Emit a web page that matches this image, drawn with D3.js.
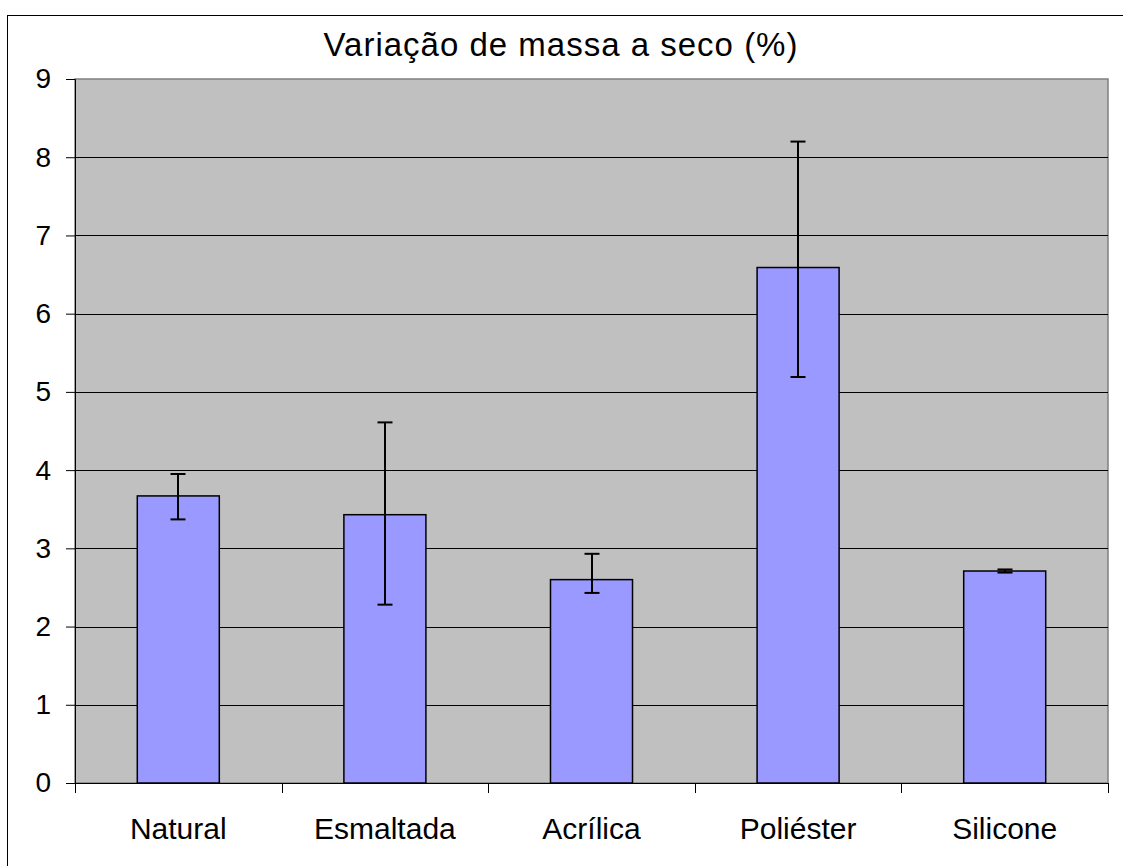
<!DOCTYPE html>
<html>
<head>
<meta charset="utf-8">
<script src="https://cdn.jsdelivr.net/npm/d3@7"></script>
<style>
  html, body { margin: 0; padding: 0; background: #fff; }
  svg { display: block; }
  svg text { font-family: "Liberation Sans", Arial, sans-serif; }
</style>
</head>
<body>
<svg id="chart" width="1123" height="866"></svg>
<script>
// Data
const title = "Variação de massa a seco (%)";
const categories = ["Natural", "Esmaltada", "Acrílica", "Poliéster", "Silicone"];
const values = [3.67, 3.43, 2.60, 6.59, 2.71];
const errLow = [3.37, 2.28, 2.43, 5.19, 2.69];
const errHigh = [3.95, 4.61, 2.93, 8.20, 2.73];
const yTicks = [0, 1, 2, 3, 4, 5, 6, 7, 8, 9];

const FONT = "'Liberation Sans', Arial, sans-serif";
const svg = d3.select("#chart");
const plot = { left: 75, top: 79, right: 1108, bottom: 783 };

// Outer chart frame
svg.append("rect")
  .attr("x", 7.5).attr("y", 15.5)
  .attr("width", 1130).attr("height", 900)
  .attr("fill", "#fff").attr("stroke", "#000").attr("stroke-width", 1);

const x = d3.scaleBand()
  .domain(categories)
  .range([plot.left, plot.right])
  .paddingInner(0).paddingOuter(0);

const y = d3.scaleLinear()
  .domain([0, 9])
  .range([plot.bottom, plot.top]);

// Plot area background
svg.append("rect")
  .attr("x", plot.left).attr("y", plot.top)
  .attr("width", plot.right - plot.left).attr("height", plot.bottom - plot.top)
  .attr("fill", "#c0c0c0").attr("stroke", "#808080").attr("stroke-width", 1.5);

// Horizontal gridlines
svg.append("g").selectAll("line")
  .data(yTicks.filter(d => d > 0 && d < 9))
  .join("line")
  .attr("x1", plot.left).attr("x2", plot.right)
  .attr("y1", d => Math.round(y(d)) + 0.5).attr("y2", d => Math.round(y(d)) + 0.5)
  .attr("stroke", "#000").attr("stroke-width", 1);

// Y axis
const yAxis = svg.append("g")
  .attr("transform", `translate(${plot.left},0)`)
  .call(d3.axisLeft(y).tickValues(yTicks).tickSize(9).tickPadding(15).tickFormat(d3.format("d")));
yAxis.attr("font-family", FONT).attr("font-size", 28);
yAxis.select(".domain").attr("stroke", "#000");
yAxis.selectAll(".tick line").attr("stroke", "#000");
yAxis.selectAll(".tick text").attr("fill", "#000");

// X axis: ticks between categories
const xAxisG = svg.append("g").attr("transform", `translate(0,${plot.bottom})`);
xAxisG.append("line")
  .attr("x1", plot.left).attr("x2", plot.right)
  .attr("y1", 0.5).attr("y2", 0.5)
  .attr("stroke", "#000");
const boundaries = categories.map(c => x(c)).concat([x(categories[categories.length - 1]) + x.bandwidth()]);
xAxisG.selectAll("line.tick")
  .data(boundaries)
  .join("line")
  .attr("class", "tick")
  .attr("x1", d => Math.round(d) + 0.5).attr("x2", d => Math.round(d) + 0.5)
  .attr("y1", 0).attr("y2", 10)
  .attr("stroke", "#000");
xAxisG.selectAll("text")
  .data(categories)
  .join("text")
  .attr("x", d => x(d) + x.bandwidth() / 2)
  .attr("y", 56)
  .attr("text-anchor", "middle")
  .attr("font-family", FONT)
  .attr("font-size", 30)
  .attr("fill", "#000")
  .text(d => d);

// Bars
const barW = x.bandwidth() * 0.397;
svg.append("g").selectAll("rect")
  .data(categories)
  .join("rect")
  .attr("x", (d) => x(d) + (x.bandwidth() - barW) / 2)
  .attr("y", (d, i) => y(values[i]))
  .attr("width", barW)
  .attr("height", (d, i) => y(0) - y(values[i]))
  .attr("fill", "#9999ff")
  .attr("stroke", "#000")
  .attr("stroke-width", 1.5);

// Error bars
const capW = 15;
const eg = svg.append("g").attr("stroke", "#000").attr("stroke-width", 2);
categories.forEach((c, i) => {
  const cx = Math.round(x(c) + x.bandwidth() / 2);
  eg.append("line").attr("x1", cx).attr("x2", cx).attr("y1", y(errLow[i])).attr("y2", y(errHigh[i]));
  eg.append("line").attr("x1", cx - capW / 2).attr("x2", cx + capW / 2).attr("y1", y(errLow[i])).attr("y2", y(errLow[i]));
  eg.append("line").attr("x1", cx - capW / 2).attr("x2", cx + capW / 2).attr("y1", y(errHigh[i])).attr("y2", y(errHigh[i]));
});

// Title, centred on the chart frame
svg.append("text")
  .attr("x", 561)
  .attr("y", 56)
  .attr("text-anchor", "middle")
  .attr("font-family", FONT)
  .attr("font-size", 33)
  .attr("letter-spacing", 1)
  .attr("fill", "#000")
  .text(title);
</script>
</body>
</html>
